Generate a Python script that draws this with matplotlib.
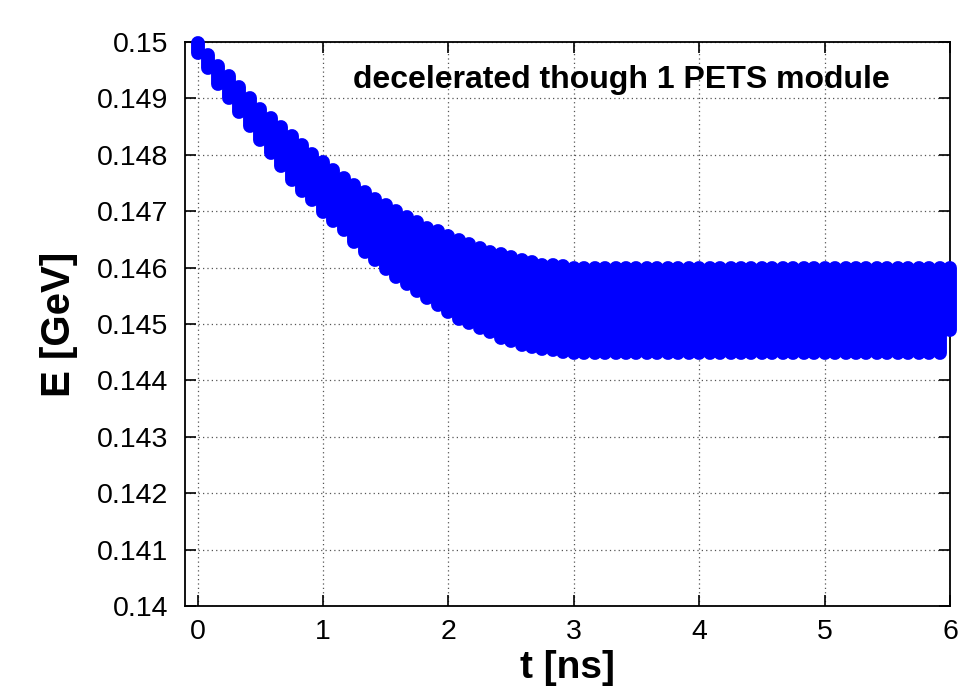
import numpy as np
import matplotlib.pyplot as plt

# bunch spacing 1/12 ns (12 GHz), one column of particles per bunch
bunch_spacing = 1.0 / 12.0

# highest and lowest particle energy in each bunch [GeV]
e_max = [0.14999, 0.14977, 0.14958, 0.14939, 0.14920, 0.14900, 0.14882, 0.14866,
         0.14849, 0.14833, 0.14817, 0.14802, 0.14788, 0.14773, 0.14759, 0.14747,
         0.14734, 0.14722, 0.14711, 0.14701, 0.14690, 0.14680, 0.14671, 0.14665,
         0.14656, 0.14649, 0.14641, 0.14635, 0.14628, 0.14624, 0.14619, 0.14613,
         0.14610, 0.14605, 0.14604, 0.14602] + [0.14600] * 37
e_min = [0.14980, 0.14953, 0.14926, 0.14901, 0.14876, 0.14851, 0.14827, 0.14804,
         0.14780, 0.14756, 0.14736, 0.14719, 0.14699, 0.14682, 0.14666, 0.14646,
         0.14628, 0.14613, 0.14598, 0.14583, 0.14571, 0.14559, 0.14546, 0.14533,
         0.14521, 0.14509, 0.14501, 0.14493, 0.14485, 0.14476, 0.14469, 0.14463,
         0.14459, 0.14456, 0.14453, 0.14451] + [0.14449] * 36 + [0.14489]

yticks = [0.14, 0.141, 0.142, 0.143, 0.144, 0.145, 0.146, 0.147, 0.148, 0.149, 0.15]
ytick_labels = ["0.14", "0.141", "0.142", "0.143", "0.144", "0.145",
                "0.146", "0.147", "0.148", "0.149", "0.15"]
xticks = [0, 1, 2, 3, 4, 5, 6]

t = np.arange(len(e_max)) * bunch_spacing

plt.rcParams['font.family'] = ['Liberation Sans', 'DejaVu Sans']

fig = plt.figure(figsize=(9.6, 6.87), dpi=100)
ax = fig.add_axes([0.1927, 0.1179, 0.7969, 0.821])

ax.vlines(t, e_min, e_max, colors='#0000ff', linewidth=10,
          capstyle='round', clip_on=False, zorder=3)

ax.set_xlim(-0.1, 6.0)
ax.set_ylim(0.14, 0.15)
ax.set_xticks(xticks)
ax.set_yticks(yticks)
ax.set_yticklabels(ytick_labels)

ax.grid(True, color='#555555', linestyle=(0, (1, 2.5)), linewidth=0.9)
ax.tick_params(direction='in', length=8, width=1.2, top=True, right=True,
               labelsize=20.5)
ax.tick_params(axis='y', pad=12)
ax.tick_params(axis='x', pad=9)
for s in ax.spines.values():
    s.set_linewidth(1.3)

ax.set_xlabel('t [ns]', fontsize=28, fontweight='bold', labelpad=4)
ax.set_ylabel('E [GeV]', fontsize=29, fontweight='bold', labelpad=14)

ax.text(0.570, 0.9326, 'decelerated though 1 PETS module', transform=ax.transAxes,
        ha='center', va='center', fontsize=23, fontweight='bold')

fig.savefig('out.png', dpi=100)
